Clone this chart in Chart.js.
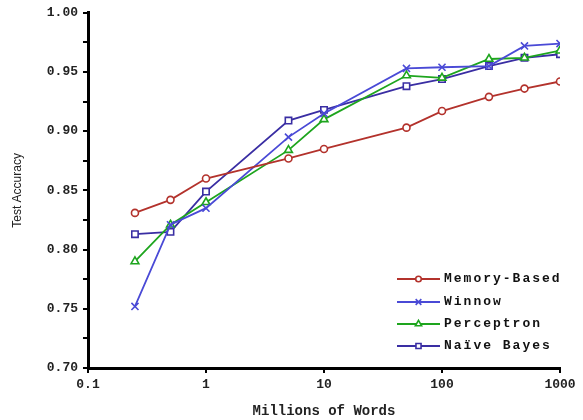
<!DOCTYPE html>
<html>
<head>
<meta charset="utf-8">
<script src="https://cdn.jsdelivr.net/npm/chart.js@4/dist/chart.umd.min.js"></script>
<style>
html,body{margin:0;padding:0;background:#fff;}
#wrap{width:583px;height:420px;position:relative;}
</style>
</head>
<body>
<div id="wrap"><canvas id="c" width="583" height="420"></canvas></div>
<script>
const words = [0.25, 0.5, 1, 5, 10, 50, 100, 250, 500, 1000];
const memoryBased = [0.831, 0.842, 0.860, 0.877, 0.885, 0.903, 0.917, 0.929, 0.936, 0.942];
const winnow      = [0.752, 0.821, 0.835, 0.895, 0.915, 0.953, 0.954, 0.955, 0.972, 0.974];
const perceptron  = [0.790, 0.821, 0.840, 0.884, 0.910, 0.947, 0.945, 0.961, 0.962, 0.968];
const naiveBayes  = [0.813, 0.815, 0.849, 0.909, 0.918, 0.938, 0.944, 0.955, 0.962, 0.965];
const xTicks = [0.1, 1, 10, 100, 1000];
const yTicks = [0.70, 0.725, 0.75, 0.775, 0.80, 0.825, 0.85, 0.875, 0.90, 0.925, 0.95, 0.975, 1.00];
const yLabels = [0.70, 0.75, 0.80, 0.85, 0.90, 0.95, 1.00];

const mono = "'Liberation Mono', 'DejaVu Sans Mono', monospace";
function pts(arr){ return words.map((w,i)=>({x:w, y:arr[i]})); }
function ds(label, arr, color, style, r){
  return {label, data: pts(arr), borderColor: color, backgroundColor: '#fff',
    pointBackgroundColor: '#fff', pointBorderColor: color, pointStyle: style,
    pointRadius: r, pointBorderWidth: 1.6, borderWidth: 1.8, tension: 0};
}
const datasets = [
  ds('Memory-Based', memoryBased, '#b3322c', 'circle', 3.5),
  ds('Winnow', winnow, '#4a4ad6', 'crossRot', 5),
  ds('Perceptron', perceptron, '#1ea51e', 'triangle', 4.5),
  ds('Naïve Bayes', naiveBayes, '#3a2ea3', 'rect', 4.5)
];

const legendPlugin = {
  id: 'inLegend',
  afterDraw(chart){
    const ctx = chart.ctx;
    const x0 = 397, x1 = 440, tx = 444;
    const ys = [279, 302, 324, 346];
    ctx.save();
    chart.data.datasets.forEach((d,i)=>{
      const y = ys[i];
      ctx.strokeStyle = d.borderColor; ctx.lineWidth = 2;
      ctx.beginPath(); ctx.moveTo(x0,y); ctx.lineTo(x1,y); ctx.stroke();
      ctx.fillStyle = '#fff'; ctx.strokeStyle = d.borderColor; ctx.lineWidth = 1.6;
      Chart.helpers.drawPoint(ctx, {pointStyle: d.pointStyle, radius: d.pointRadius*0.8, borderWidth: 1.6, rotation: 0}, (x0+x1)/2, y);
      ctx.fillStyle = '#111';
      ctx.font = 'bold 13px ' + mono;
      ctx.letterSpacing = '2px';
      ctx.textAlign = 'left'; ctx.textBaseline = 'middle';
      ctx.fillText(d.label, tx, y);
    });
    ctx.restore();
  }
};

new Chart(document.getElementById('c'), {
  type: 'line',
  data: { datasets },
  options: {
    responsive: false,
    animation: false,
    layout: { padding: { left: 0, right: 23, top: 12, bottom: 0 } },
    plugins: { legend: { display: false }, tooltip: { enabled: false } },
    scales: {
      x: {
        type: 'logarithmic', min: 0.1, max: 1000,
        afterBuildTicks: s => { s.ticks = xTicks.map(v=>({value:v})); },
        afterFit: s => { s.height = 52; },
        ticks: { callback: v => String(v), color: '#222', font: { family: mono, size: 13, weight: 'bold' }, maxRotation: 0, autoSkip: false, padding: 4 },
        grid: { drawOnChartArea: false, drawTicks: true, tickLength: 5, color: '#000', lineWidth: 2 },
        border: { display: true, color: '#000', width: 3 },
        title: { display: true, text: 'Millions of Words', color: '#222', font: { family: mono, size: 14, weight: 'bold' }, padding: { top: 6, bottom: 0 } }
      },
      y: {
        type: 'linear', min: 0.70, max: 1.00,
        afterBuildTicks: s => { s.ticks = yTicks.map(v=>({value:v})); },
        afterFit: s => { s.width = 88; },
        ticks: { callback: v => yLabels.some(l => Math.abs(l - v) < 1e-6) ? v.toFixed(2) : '', color: '#222', font: { family: mono, size: 13, weight: 'bold' }, autoSkip: false, padding: 5 },
        grid: { drawOnChartArea: false, drawTicks: true, tickLength: 5, color: '#000', lineWidth: 2 },
        border: { display: true, color: '#000', width: 3 },
        title: { display: true, text: 'Test Accuracy', color: '#222', font: { family: "'Liberation Sans', Arial, sans-serif", size: 12 }, padding: { top: 10, bottom: 4 } }
      }
    }
  },
  plugins: [legendPlugin]
});
</script>
</body>
</html>
